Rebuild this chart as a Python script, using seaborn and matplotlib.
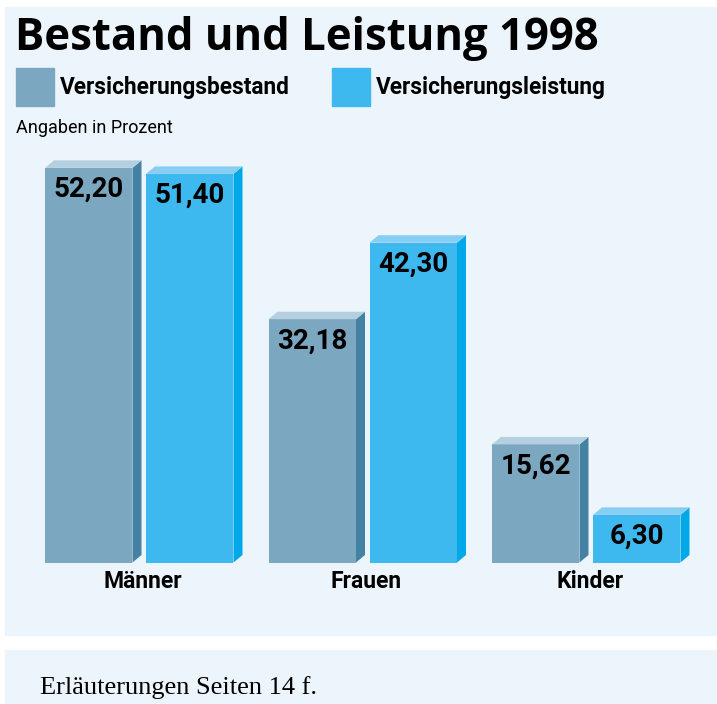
"""Bestand und Leistung 1998 - grouped bars with a simple 3D look."""

import matplotlib

matplotlib.use("Agg")

import matplotlib.pyplot as plt  # noqa: E402
import pandas as pd  # noqa: E402
import seaborn as sns  # noqa: E402
from matplotlib.patches import Polygon, Rectangle  # noqa: E402

# ---- data -----------------------------------------------------------------
categories = ["Männer", "Frauen", "Kinder"]
series = ["Versicherungsbestand", "Versicherungsleistung"]
bestand = [52.20, 32.18, 15.62]
leistung = [51.40, 42.30, 6.30]
title = "Bestand und Leistung 1998"
unit_note = "Angaben in Prozent"
footer = "Erläuterungen Seiten 14 f."

# ---- style ----------------------------------------------------------------
W, H = 717, 704
PANEL = "#edf5fc"
FRONT = ["#7ba7c0", "#3db9ef"]
SIDE = ["#4482a4", "#00a8e8"]
TOP = ["#b3cfe0", "#88cdf2"]
PX_PER_UNIT = 7.56
BASE_Y = 562.5       # baseline, px from top
DEPTH_X, DEPTH_Y = 9, 7.5

sns.set_theme(style="white")
plt.rcParams["font.family"] = ["Roboto", "DejaVu Sans"]
plt.rcParams["text.color"] = "black"


def fx(x):
    return x / W


def fy(y):
    return 1 - y / H


df = pd.DataFrame({
    "gruppe": categories * 2,
    "reihe": [series[0]] * 3 + [series[1]] * 3,
    "anteil": bestand + leistung,
})

fig = plt.figure(figsize=(W / 100, H / 100), dpi=100, facecolor="white")

# background panels
fig.add_artist(Rectangle((fx(5), fy(635)), fx(712), (635 - 7) / H,
                         transform=fig.transFigure, color=PANEL, zorder=-1))
fig.add_artist(Rectangle((fx(5), 0), fx(712), (704 - 650) / H,
                         transform=fig.transFigure, color=PANEL, zorder=-1))

ax = fig.add_axes([0, 1 - BASE_Y / H, 1, (BASE_Y - 150) / H])
ax.set_facecolor("none")
sns.barplot(data=df, x="gruppe", y="anteil", hue="reihe", order=categories,
            hue_order=series, palette=FRONT, saturation=1, width=0.9038,
            gap=0.1337, linewidth=0, legend=False, ax=ax)

spacing = 223.5
center0 = 139.25
ax.set_xlim(-center0 / spacing, (W - center0) / spacing)
ax.set_ylim(0, (BASE_Y - 150) / PX_PER_UNIT)
ax.axis("off")

dx = DEPTH_X / spacing
dy = DEPTH_Y / PX_PER_UNIT
for i, container in enumerate(ax.containers):
    for bar in container:
        x0, w, h = bar.get_x(), bar.get_width(), bar.get_height()
        x1 = x0 + w
        ax.add_patch(Polygon([(x1, 0), (x1 + dx, dy), (x1 + dx, h + dy), (x1, h)],
                             closed=True, color=SIDE[i], lw=0))
        ax.add_patch(Polygon([(x0, h), (x0 + dx, h + dy), (x1 + dx, h + dy), (x1, h)],
                             closed=True, color=TOP[i], lw=0))
        ax.annotate(f"{h:.2f}".replace(".", ","), (x0 + w / 2, h),
                    xytext=(0, -15.5), textcoords="offset points",
                    ha="center", va="center", fontsize=20, fontweight="bold",
                    color="black")

# category labels under the groups
for i, cat in enumerate(categories):
    ax.annotate(cat, (i, 0), xytext=(2.5, -13.5), textcoords="offset points",
                ha="center", va="center", fontsize=16.5, fontweight="bold",
                color="black")

# header
fig.text(fx(15), fy(50), title, family=["Open Sans", "DejaVu Sans"],
         fontsize=31.5, fontweight="bold", va="baseline", color="black")
for j, (x_sq, x_txt) in enumerate([(16, 60), (332, 376)]):
    fig.add_artist(Rectangle((fx(x_sq), fy(106)), 38 / W, 38 / H,
                             transform=fig.transFigure, color=FRONT[j]))
    fig.text(fx(x_txt), fy(94), series[j], fontsize=16.3, fontweight="bold",
             va="baseline", color="black")
fig.text(fx(16), fy(133), unit_note, fontsize=13, va="baseline", color="black")

fig.text(fx(40), fy(694), footer, family=["Liberation Serif", "DejaVu Serif"],
         fontsize=19, va="baseline", color="black")

fig.savefig("out.png", dpi=100, facecolor="white")
